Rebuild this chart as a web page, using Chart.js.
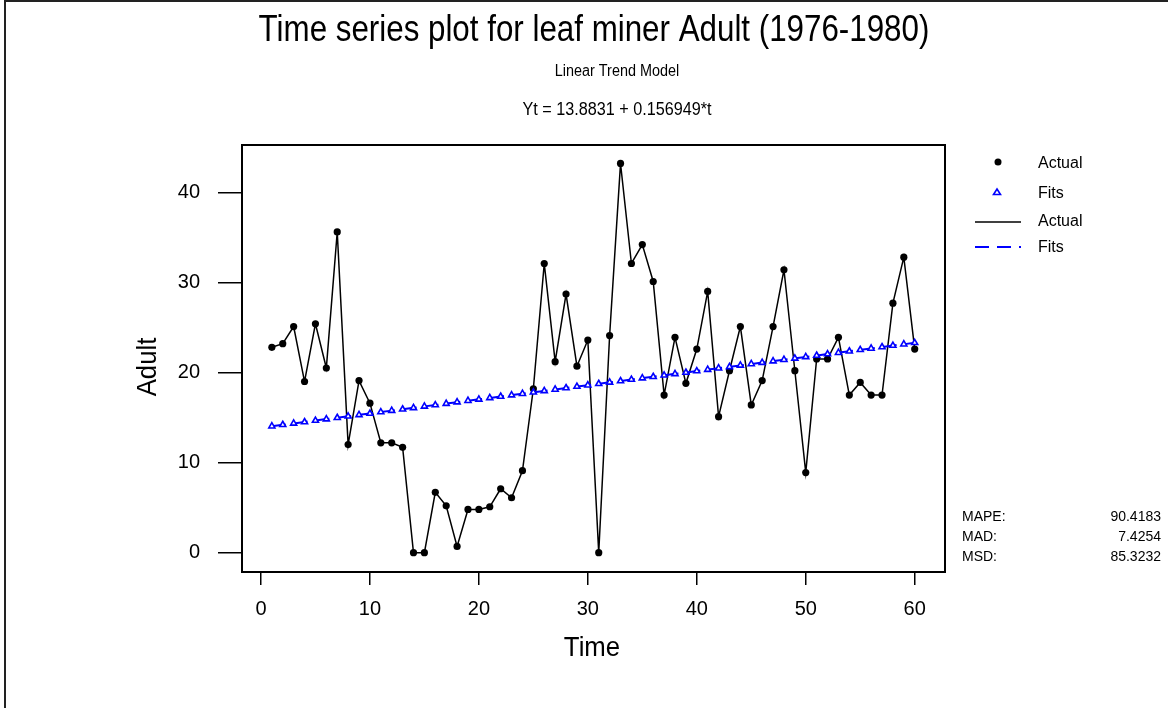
<!DOCTYPE html>
<html>
<head>
<meta charset="utf-8">
<title>Time series plot for leaf miner Adult (1976-1980)</title>
<script src="https://cdn.jsdelivr.net/npm/chart.js@4.4.0/dist/chart.umd.min.js"></script>
<style>
  body { margin: 0; background: #fff; }
  #wrap { width: 1168px; height: 708px; }
</style>
</head>
<body>
<div id="wrap"><canvas id="mycanvas" width="1168" height="708"></canvas></div>
<script>
// monthly samples, 1976-1980
var time = [1, 2, 3, 4, 5, 6, 7, 8, 9, 10, 11, 12, 13, 14, 15, 16, 17, 18, 19, 20,
            21, 22, 23, 24, 25, 26, 27, 28, 29, 30, 31, 32, 33, 34, 35, 36, 37, 38, 39, 40,
            41, 42, 43, 44, 45, 46, 47, 48, 49, 50, 51, 52, 53, 54, 55, 56, 57, 58, 59, 60];

var actual = [22.8, 23.2, 25.1, 19.0, 25.4, 20.5, 35.6, 12.0, 19.1, 16.6,
              12.2, 12.2, 11.7, 0.0, 0.0, 6.7, 5.2, 0.7, 4.8, 4.8,
              5.1, 7.1, 6.1, 9.1, 18.2, 32.1, 21.2, 28.7, 20.7, 23.6,
              0.0, 24.1, 43.2, 32.1, 34.2, 30.1, 17.5, 23.9, 18.8, 22.6,
              29.0, 15.1, 20.2, 25.1, 16.4, 19.1, 25.1, 31.4, 20.2, 8.9,
              21.5, 21.5, 23.9, 17.5, 18.9, 17.5, 17.5, 27.7, 32.8, 22.6];

// Yt = 13.8831 + 0.156949*t
var fits = [14.04, 14.20, 14.35, 14.51, 14.67, 14.83, 14.98, 15.14, 15.30, 15.45,
            15.61, 15.77, 15.92, 16.08, 16.24, 16.39, 16.55, 16.71, 16.87, 17.02,
            17.18, 17.34, 17.49, 17.65, 17.81, 17.96, 18.12, 18.28, 18.44, 18.59,
            18.75, 18.91, 19.06, 19.22, 19.38, 19.53, 19.69, 19.85, 20.00, 20.16,
            20.32, 20.48, 20.63, 20.79, 20.95, 21.10, 21.26, 21.42, 21.57, 21.73,
            21.89, 22.05, 22.20, 22.36, 22.52, 22.67, 22.83, 22.99, 23.14, 23.30];

var xTicks = [0, 10, 20, 30, 40, 50, 60];
var yTicks = [0, 10, 20, 30, 40];

var accuracy = [["MAPE:", "90.4183"], ["MAD:", "7.4254"], ["MSD:", "85.3232"]];

var FONT = '"Liberation Sans", Arial, sans-serif';

function text(ctx, s, x, y, size, align, sx) {
    ctx.save();
    ctx.translate(x, y);
    ctx.scale(sx || 1, 1);
    ctx.font = size + 'px ' + FONT;
    ctx.fillStyle = '#000';
    ctx.textAlign = align || 'center';
    ctx.textBaseline = 'middle';
    ctx.fillText(s, 0, 0);
    ctx.restore();
}

var decorations = {
    id: 'decorations',
    beforeDraw: function(chart) {
        var ctx = chart.ctx;
        ctx.save();
        ctx.fillStyle = '#fff';
        ctx.fillRect(0, 0, chart.width, chart.height);
        ctx.strokeStyle = '#222';
        ctx.lineWidth = 2;
        ctx.strokeRect(5, 1, chart.width + 20, chart.height + 20);
        ctx.restore();
    },
    afterDraw: function(chart) {
        var ctx = chart.ctx;
        var a = chart.chartArea;

        // frame round the plot
        ctx.save();
        ctx.strokeStyle = '#000';
        ctx.lineWidth = 2;
        ctx.strokeRect(a.left, a.top, a.right - a.left, a.bottom - a.top);
        ctx.restore();

        // headings
        text(ctx, 'Time series plot for leaf miner Adult (1976-1980)', 594, 31, 36, 'center', 0.87);
        text(ctx, 'Linear Trend Model', 617, 72, 16, 'center', 0.9);
        text(ctx, 'Yt = 13.8831 + 0.156949*t', 617, 110, 18, 'center', 0.9);

        // axis titles
        text(ctx, 'Time', 592, 648, 28, 'center', 0.92);
        ctx.save();
        ctx.translate(148, 367);
        ctx.rotate(-Math.PI / 2);
        text(ctx, 'Adult', 0, 0, 28, 'center', 0.92);
        ctx.restore();

        // legend
        ctx.save();
        ctx.fillStyle = '#000';
        ctx.beginPath();
        ctx.arc(998, 162, 3.5, 0, Math.PI * 2);
        ctx.fill();

        ctx.strokeStyle = '#0000ff';
        ctx.lineWidth = 1.6;
        ctx.beginPath();
        ctx.moveTo(997, 189);
        ctx.lineTo(1000.5, 194.5);
        ctx.lineTo(993.5, 194.5);
        ctx.closePath();
        ctx.stroke();

        ctx.strokeStyle = '#000';
        ctx.lineWidth = 1.5;
        ctx.beginPath();
        ctx.moveTo(975, 222);
        ctx.lineTo(1021, 222);
        ctx.stroke();

        ctx.strokeStyle = '#0000ff';
        ctx.lineWidth = 2;
        ctx.setLineDash([14, 8]);
        ctx.beginPath();
        ctx.moveTo(975, 247);
        ctx.lineTo(1021, 247);
        ctx.stroke();
        ctx.restore();

        text(ctx, 'Actual', 1038, 164, 16, 'left');
        text(ctx, 'Fits', 1038, 194, 16, 'left');
        text(ctx, 'Actual', 1038, 222, 16, 'left');
        text(ctx, 'Fits', 1038, 248, 16, 'left');

        // accuracy measures
        for (var i = 0; i < accuracy.length; i++) {
            text(ctx, accuracy[i][0], 962, 517 + i * 20, 14, 'left');
            text(ctx, accuracy[i][1], 1161, 517 + i * 20, 14, 'right');
        }
    }
};

var chartdata = {
    datasets: [
        {
            label: 'Fits',
            data: time.map(function(t, i) { return { x: t, y: fits[i] }; }),
            borderColor: '#0000ff',
            borderWidth: 2,
            borderDash: [14, 8],
            pointStyle: 'triangle',
            pointRadius: 3.5,
            pointBorderWidth: 1.6,
            pointBorderColor: '#0000ff',
            pointBackgroundColor: '#fff',
            tension: 0
        },
        {
            label: 'Actual',
            data: time.map(function(t, i) { return { x: t, y: actual[i] }; }),
            borderColor: '#000',
            borderWidth: 1.5,
            pointRadius: 3.6,
            pointBorderWidth: 0,
            pointBackgroundColor: '#000',
            tension: 0
        }
    ]
};

var ctx = document.getElementById('mycanvas');

var LineGraph = new Chart(ctx, {
    type: 'line',
    data: chartdata,
    plugins: [decorations],
    options: {
        responsive: false,
        animation: false,
        devicePixelRatio: 1,
        layout: { padding: { left: 0, top: 145, right: 223, bottom: 0 } },
        plugins: {
            legend: { display: false },
            tooltip: { enabled: false }
        },
        scales: {
            x: {
                type: 'linear',
                min: -1.74,
                max: 62.78,
                afterBuildTicks: function(scale) {
                    scale.ticks = xTicks.map(function(v) { return { value: v }; });
                },
                afterFit: function(scale) { scale.height = 136; },
                grid: { drawOnChartArea: false, tickLength: 13, color: '#000', lineWidth: 1.5 },
                border: { color: '#000', width: 2 },
                ticks: { color: '#000', font: { family: FONT, size: 20 }, padding: 12, maxRotation: 0 }
            },
            y: {
                min: -2.14,
                max: 45.25,
                afterBuildTicks: function(scale) {
                    scale.ticks = yTicks.map(function(v) { return { value: v }; });
                },
                afterFit: function(scale) { scale.width = 242; },
                grid: { drawOnChartArea: false, tickLength: 24, color: '#000', lineWidth: 1.5 },
                border: { color: '#000', width: 2 },
                ticks: { color: '#000', font: { family: FONT, size: 20 }, padding: 18 }
            }
        }
    }
});
</script>
</body>
</html>
